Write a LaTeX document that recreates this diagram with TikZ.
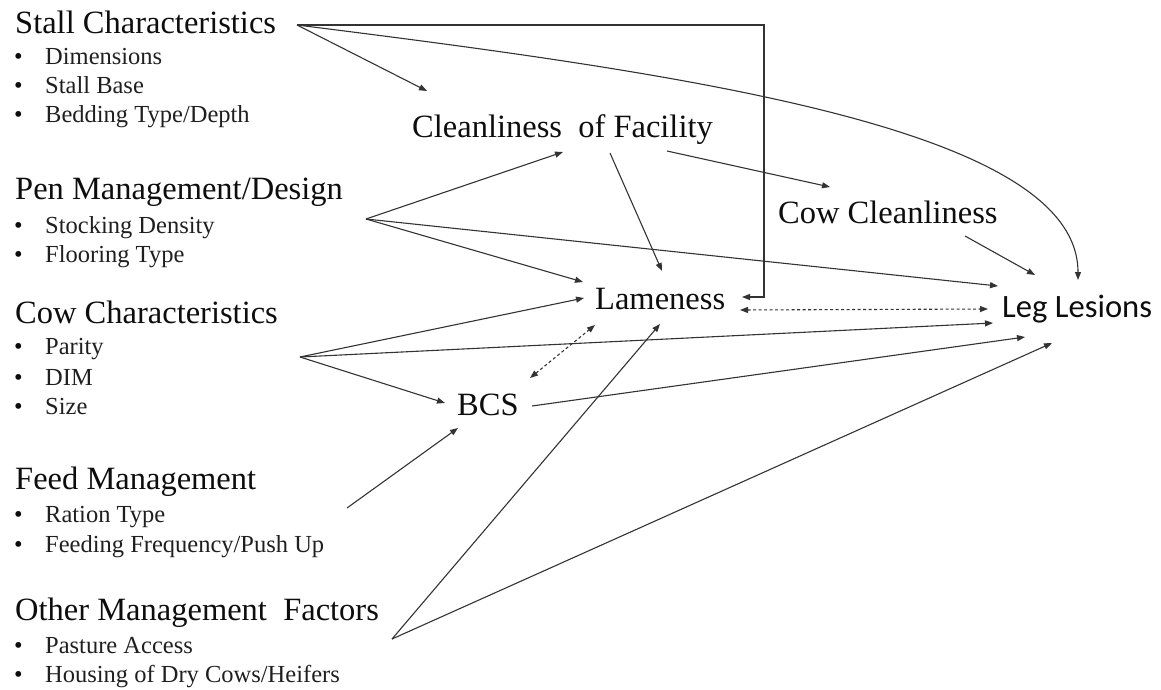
\documentclass[tikz,border=0pt]{standalone}
\usepackage{fontspec}
\setmainfont{Liberation Serif}
\newfontfamily\sansfont{Carlito}
\usetikzlibrary{arrows.meta}
\begin{document}
\begin{tikzpicture}[x=1pt,y=-1pt,
  head/.style={anchor=base west, inner sep=0pt, text=black!95, font=\fontsize{32.5}{36}\selectfont},
  item/.style={anchor=base west, inner sep=0pt, text=black!88, font=\fontsize{24.5}{28}\selectfont},
  dot/.style={anchor=base west, inner sep=0pt, text=black!95, font=\fontsize{24.5}{28}\selectfont},
  factor/.style={anchor=base west, inner sep=0pt, text=black!95, font=\fontsize{32.5}{36}\selectfont},
  tip/.tip={Triangle[length=8pt,width=6pt]},
  link/.style={draw=black!80, line width=1.1pt, -tip},
  mutual/.style={draw=black!80, line width=1.1pt, tip-tip, dash pattern=on 3pt off 2.5pt},
]
\useasboundingbox (0,0) rectangle (1161,690);

% ---- factor groups on the left ----
\node[head] (stall) at (15,34) {Stall Characteristics};
\node[dot] (b11) at (14,65) {•}; \node[item] (i11) at (45,65) {Dimensions};
\node[dot] (b12) at (14,94) {•}; \node[item] (i12) at (45,94) {Stall Base};
\node[dot] (b13) at (14,123) {•}; \node[item] (i13) at (45,123) {Bedding Type/Depth};

\node[head] (pen) at (15,199) {Pen Management/Design};
\node[dot] (b21) at (14,233) {•}; \node[item] (i21) at (45,233) {Stocking Density};
\node[dot] (b22) at (14,262) {•}; \node[item] (i22) at (45,262) {Flooring Type};

\node[head] (cow) at (15,323) {Cow Characteristics};
\node[dot] (b31) at (14,354) {•}; \node[item] (i31) at (45,354) {Parity};
\node[dot] (b32) at (14,385) {•}; \node[item] (i32) at (45,385) {DIM};
\node[dot] (b33) at (14,414) {•}; \node[item] (i33) at (45,414) {Size};

\node[head] (feed) at (15,489) {Feed Management};
\node[dot] (b41) at (14,522) {•}; \node[item] (i41) at (45,522) {Ration Type};
\node[dot] (b42) at (14,552) {•}; \node[item] (i42) at (45,552) {Feeding Frequency/Push Up};

\node[head] (other) at (15,620) {Other Management\ \ Factors};
\node[dot] (b51) at (14,653) {•}; \node[item] (i51) at (45,653) {Pasture Access};
\node[dot] (b52) at (14,682) {•}; \node[item] (i52) at (45,682) {Housing of Dry Cows/Heifers};

% ---- intermediate factors and outcome ----
\node[factor] (clean) at (412,137) {Cleanliness\ \ of Facility};
\node[factor] (cowc) at (778,223) {Cow Cleanliness};
\node[factor] (lame) at (595,309) {Lameness};
\node[factor] (bcs) at (457,415) {BCS};
\node[factor, font=\sansfont\fontsize{32.6}{36}\selectfont] (leg) at (1002,317) {Leg Lesions};

% ---- connector ends ----
\coordinate (stall-out) at (297,25);
\coordinate (pen-out) at (366,219);
\coordinate (cow-out) at (300,357);
\coordinate (feed-out) at (347,508);
\coordinate (other-out) at (392,639);

\coordinate (clean-in1) at (427,91);
\coordinate (clean-in2) at (563,152);
\coordinate (clean-out1) at (610,153);
\coordinate (clean-out2) at (667,151);

\coordinate (cowc-in) at (830,187);
\coordinate (cowc-out) at (965,236);

\coordinate (lame-in1) at (742,297);
\coordinate (lame-in2) at (583,282);
\coordinate (lame-in3) at (584,298);
\coordinate (lame-in4) at (662,271);
\coordinate (lame-in5) at (660,324);
\coordinate (lame-e) at (740,310);
\coordinate (lame-sw) at (595,325);

\coordinate (bcs-in1) at (445,403);
\coordinate (bcs-in2) at (458,428);
\coordinate (bcs-ne) at (530,378);
\coordinate (bcs-out) at (532,406);

\coordinate (leg-in1) at (1078,280);
\coordinate (leg-in2) at (998,286);
\coordinate (leg-in3) at (1035,275);
\coordinate (leg-w) at (988,309);
\coordinate (leg-in4) at (993,323);
\coordinate (leg-in5) at (1025,337);
\coordinate (leg-in6) at (1052,343);

\coordinate (corner1) at (764,25);
\coordinate (corner2) at (764,297);

% ---- connectors ----
\draw[link] (stall-out) -- (clean-in1);
\draw[link] (stall-out) -- (corner1) -- (corner2) -- (lame-in1);
\draw[link] (stall-out) .. controls (697,75) and (1078,130) .. (leg-in1);

\draw[link] (pen-out) -- (clean-in2);
\draw[link] (pen-out) -- (lame-in2);
\draw[link] (pen-out) -- (leg-in2);

\draw[link] (clean-out1) -- (lame-in4);
\draw[link] (clean-out2) -- (cowc-in);
\draw[link] (cowc-out) -- (leg-in3);

\draw[mutual] (lame-e) -- (leg-w);

\draw[link] (cow-out) -- (lame-in3);
\draw[link] (cow-out) -- (leg-in4);
\draw[link] (cow-out) -- (bcs-in1);

\draw[mutual] (bcs-ne) -- (lame-sw);
\draw[link] (bcs-out) -- (leg-in5);

\draw[link] (feed-out) -- (bcs-in2);

\draw[link] (other-out) -- (lame-in5);
\draw[link] (other-out) -- (leg-in6);
\end{tikzpicture}
\end{document}
